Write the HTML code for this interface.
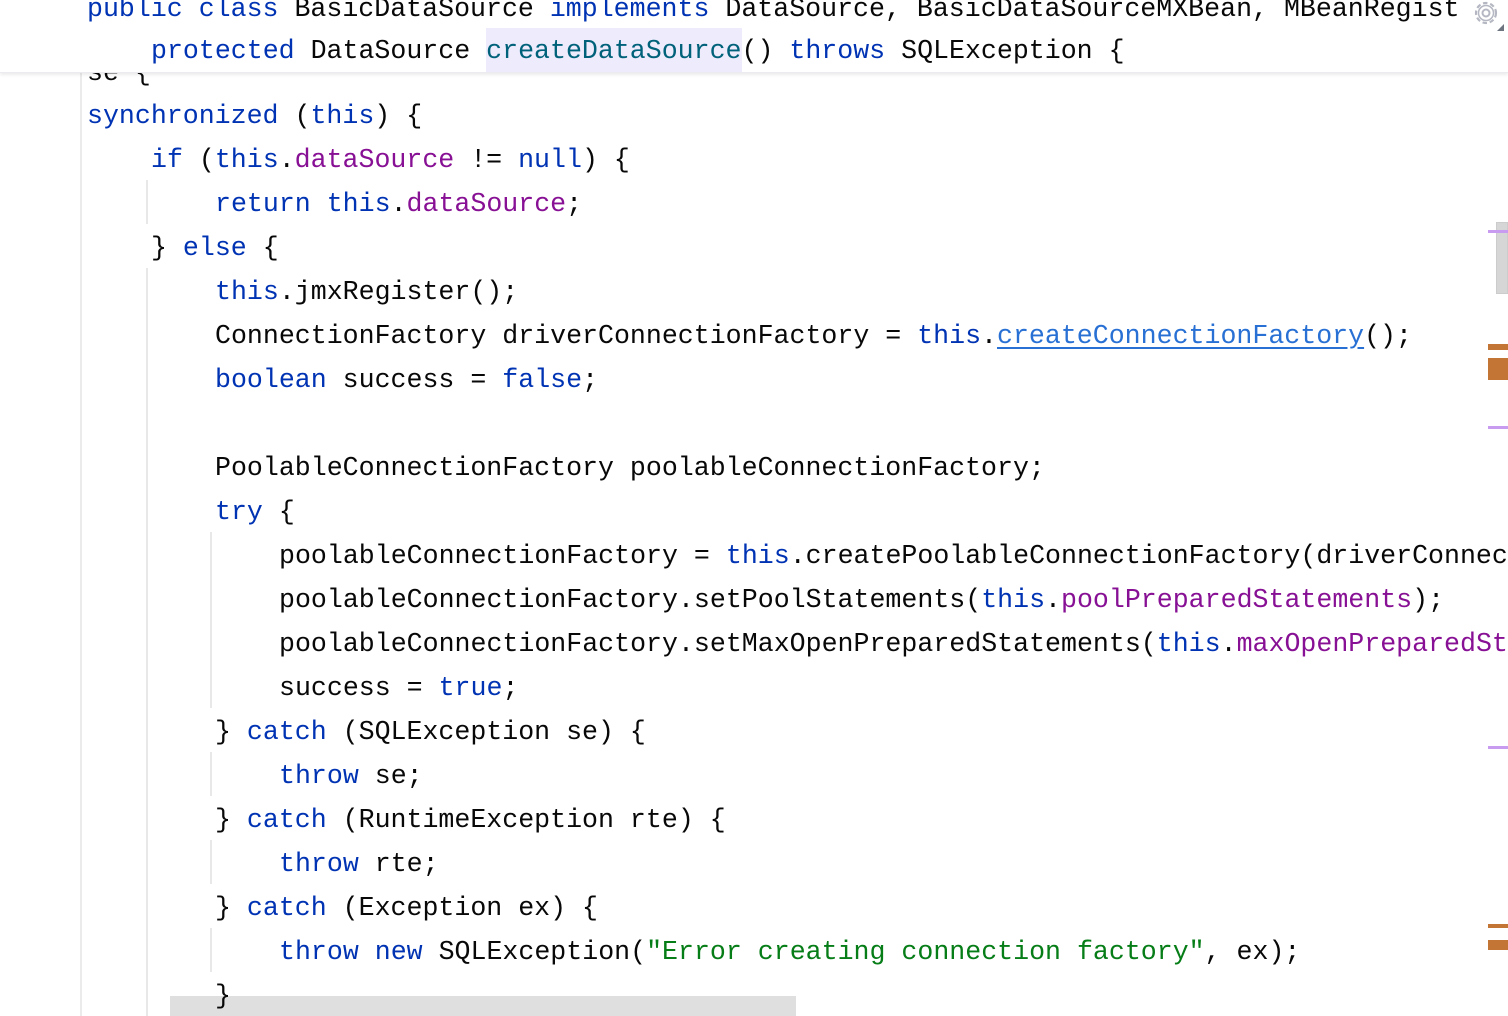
<!DOCTYPE html>
<html><head><meta charset="utf-8"><style>
html,body{margin:0;padding:0;width:1508px;height:1016px;overflow:hidden;background:#fff;}
body{font-family:"Liberation Mono",monospace;font-size:26.6px;color:#080808;}
#w{position:relative;width:1508px;height:1016px;overflow:hidden;}
.l{position:absolute;height:44px;line-height:44px;white-space:pre;}
.k{color:#0033b3}.f{color:#871094}.s{color:#067d17}.m{color:#00627a}
.u{color:#2870d4;text-decoration:underline;text-underline-offset:4px}
.g{position:absolute;background:#e8e8e8;width:2px}
</style></head><body><div id="w">
<div class="g" style="left:80px;top:72px;height:944px;background:#ebebeb"></div>
<div class="g" style="left:146px;top:180px;height:44px"></div>
<div class="g" style="left:146px;top:268px;height:748px"></div>
<div class="g" style="left:210px;top:532px;height:176px"></div>
<div class="g" style="left:210px;top:752px;height:44px"></div>
<div class="g" style="left:210px;top:840px;height:44px"></div>
<div class="g" style="left:210px;top:928px;height:44px"></div>
<div style="position:absolute;left:170px;top:996px;width:626px;height:20px;background:#dfdfdf"></div>

<div class="l" style="left:87px;top:51px;clip-path:inset(22px 0 0 0)">se {</div>
<div class="l" style="left:87px;top:94px"><span class="k">synchronized</span> (<span class="k">this</span>) {</div>
<div class="l" style="left:151px;top:138px"><span class="k">if</span> (<span class="k">this</span>.<span class="f">dataSource</span> != <span class="k">null</span>) {</div>
<div class="l" style="left:215px;top:182px"><span class="k">return this</span>.<span class="f">dataSource</span>;</div>
<div class="l" style="left:151px;top:226px">} <span class="k">else</span> {</div>
<div class="l" style="left:215px;top:270px"><span class="k">this</span>.jmxRegister();</div>
<div class="l" style="left:215px;top:314px">ConnectionFactory driverConnectionFactory = <span class="k">this</span>.<span class="u">createConnectionFactory</span>();</div>
<div class="l" style="left:215px;top:358px"><span class="k">boolean</span> success = <span class="k">false</span>;</div>
<div class="l" style="left:215px;top:446px">PoolableConnectionFactory poolableConnectionFactory;</div>
<div class="l" style="left:215px;top:490px"><span class="k">try</span> {</div>
<div class="l" style="left:279px;top:534px">poolableConnectionFactory = <span class="k">this</span>.createPoolableConnectionFactory(driverConnectionFactory);</div>
<div class="l" style="left:279px;top:578px">poolableConnectionFactory.setPoolStatements(<span class="k">this</span>.<span class="f">poolPreparedStatements</span>);</div>
<div class="l" style="left:279px;top:622px">poolableConnectionFactory.setMaxOpenPreparedStatements(<span class="k">this</span>.<span class="f">maxOpenPreparedStatements</span>);</div>
<div class="l" style="left:279px;top:666px">success = <span class="k">true</span>;</div>
<div class="l" style="left:215px;top:710px">} <span class="k">catch</span> (SQLException se) {</div>
<div class="l" style="left:279px;top:754px"><span class="k">throw</span> se;</div>
<div class="l" style="left:215px;top:798px">} <span class="k">catch</span> (RuntimeException rte) {</div>
<div class="l" style="left:279px;top:842px"><span class="k">throw</span> rte;</div>
<div class="l" style="left:215px;top:886px">} <span class="k">catch</span> (Exception ex) {</div>
<div class="l" style="left:279px;top:930px"><span class="k">throw new</span> SQLException(<span class="s">"Error creating connection factory"</span>, ex);</div>
<div class="l" style="left:215px;top:974px">}</div>

<div style="position:absolute;left:1496px;top:222px;width:12px;height:72px;background:#d6d6d6;border:1px solid #ccc;box-sizing:border-box"></div>
<div style="position:absolute;left:1488px;top:230px;width:20px;height:3px;background:#c99bf0"></div>
<div style="position:absolute;left:1488px;top:344px;width:20px;height:6px;background:#c27535"></div>
<div style="position:absolute;left:1488px;top:358px;width:20px;height:22px;background:#c27535"></div>
<div style="position:absolute;left:1488px;top:426px;width:20px;height:3px;background:#c99bf0"></div>
<div style="position:absolute;left:1488px;top:746px;width:20px;height:3px;background:#c99bf0"></div>
<div style="position:absolute;left:1488px;top:924px;width:20px;height:4px;background:#c27535"></div>
<div style="position:absolute;left:1488px;top:940px;width:20px;height:10px;background:#c27535"></div>

<div style="position:absolute;left:0;top:0;width:1508px;height:72px;background:#fff;box-shadow:0 2px 3px rgba(0,0,0,0.08);border-bottom:1px solid #ebebf0"></div>
<div class="l" style="left:87px;top:-13px"><span class="k">public class</span> BasicDataSource <span class="k">implements</span> DataSource, BasicDataSourceMXBean, MBeanRegist</div>
<div style="position:absolute;left:486px;top:28px;width:256px;height:44px;background:#edebfc"></div>
<div class="l" style="left:151px;top:29px"><span class="k">protected</span> DataSource <span class="m">createDataSource</span>() <span class="k">throws</span> SQLException {</div>
<div style="position:absolute;left:1466px;top:0;width:42px;height:34px;background:#fff"></div>
<svg style="position:absolute;left:1470px;top:0" width="38" height="34" viewBox="0 0 38 34">
<circle cx="16" cy="13" r="10" fill="none" stroke="#b5b8c2" stroke-width="2.2" stroke-dasharray="4.5 2.8"/>
<circle cx="16" cy="13" r="7.5" fill="none" stroke="#b5b8c2" stroke-width="1.5"/>
<circle cx="16" cy="13" r="3.5" fill="none" stroke="#b5b8c2" stroke-width="2"/>
<path d="M34 24 L34 31 L27 31 Z" fill="#6e7380"/>
</svg>
</div></body></html>
